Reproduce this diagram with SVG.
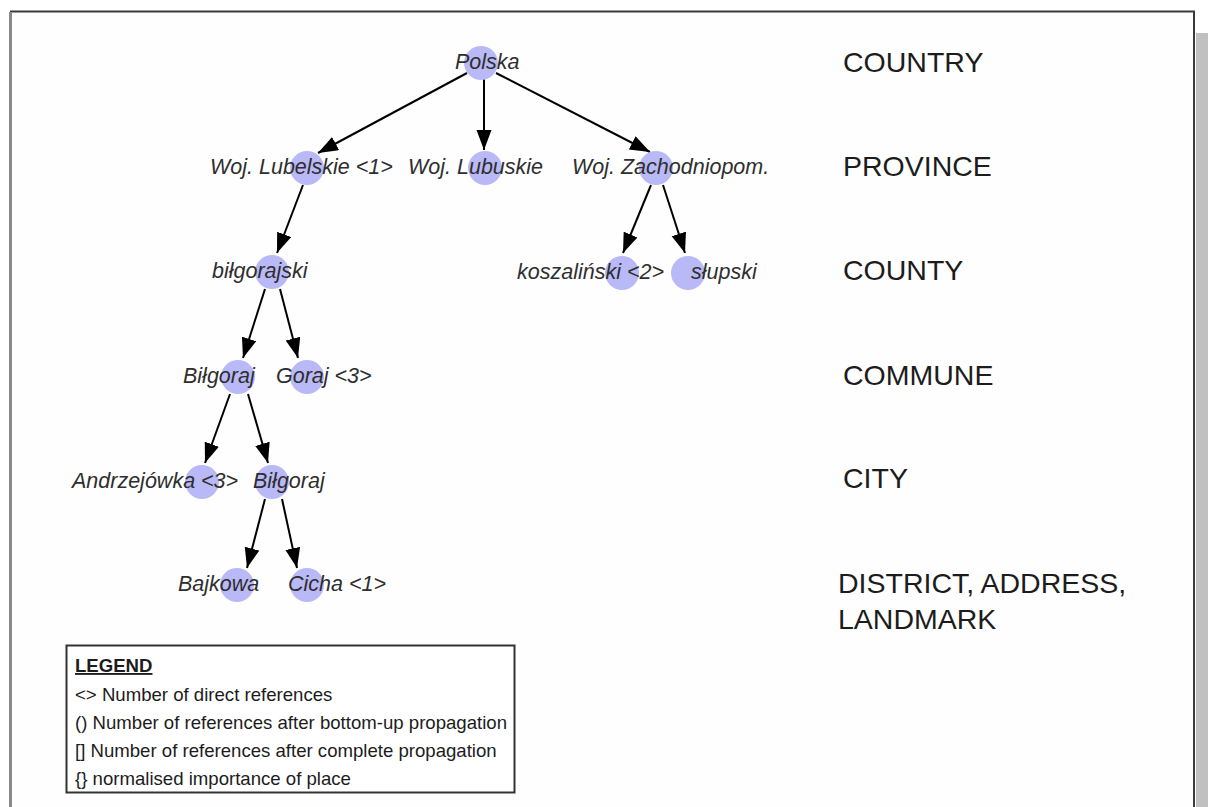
<svg xmlns="http://www.w3.org/2000/svg" width="1208" height="807" viewBox="0 0 1208 807">
  <style>
    .place { fill: #b9b9f7; }
    .label { font-family: "Liberation Sans", Arial, sans-serif; font-style: italic; font-size: 21.5px; fill: #2e2e2e; }
    .level { font-family: "Liberation Sans", Arial, sans-serif; font-size: 28.5px; fill: #1c1c1c; }
    .legend { font-family: "Liberation Sans", Arial, sans-serif; font-size: 18.6px; fill: #1c1c1c; }
    .edge { stroke: #000; stroke-width: 2; fill: none; marker-end: url(#arrow); }
  </style>
  <defs>
    <marker id="arrow" markerUnits="userSpaceOnUse" markerWidth="21" markerHeight="16" refX="20" refY="7.5" orient="auto">
      <path d="M0,0 L20,7.5 L0,15 z" fill="#000"/>
    </marker>
  </defs>

  <!-- page -->
  <rect x="0" y="0" width="1208" height="807" fill="#fff"/>
  <rect x="1196" y="33" width="12" height="780" fill="#c0c0c0"/>
  <rect x="11" y="11.5" width="1183" height="830" fill="#fefefe" stroke="#3a3a3a" stroke-width="2"/>
  <line x1="10.5" y1="12" x2="10.5" y2="807" stroke="#8a8a8a" stroke-width="3"/>

  <!-- connectors -->
  <g id="connectors">
    <line class="edge" x1="467" y1="73" x2="318" y2="153"/>
    <line class="edge" x1="484" y1="79" x2="484" y2="150"/>
    <line class="edge" x1="496" y1="73" x2="650" y2="152"/>
    <line class="edge" x1="303" y1="185" x2="277" y2="253"/>
    <line class="edge" x1="265" y1="289" x2="243" y2="358"/>
    <line class="edge" x1="280" y1="289" x2="298" y2="358"/>
    <line class="edge" x1="651" y1="185" x2="623" y2="253"/>
    <line class="edge" x1="663" y1="185" x2="685" y2="253"/>
    <line class="edge" x1="230" y1="394" x2="205" y2="463"/>
    <line class="edge" x1="248" y1="394" x2="268" y2="463"/>
    <line class="edge" x1="265" y1="499" x2="247" y2="568"/>
    <line class="edge" x1="282" y1="499" x2="297" y2="568"/>
  </g>

  <!-- places -->
  <g id="polska">
    <circle class="place" cx="481" cy="63" r="17"/>
    <text class="label" x="455" y="69">Polska</text>
  </g>
  <g id="woj-lubelskie">
    <circle class="place" cx="307" cy="168" r="17"/>
    <text class="label" x="210" y="174">Woj. Lubelskie &lt;1&gt;</text>
  </g>
  <g id="woj-lubuskie">
    <circle class="place" cx="485" cy="168" r="17"/>
    <text class="label" x="408" y="174">Woj. Lubuskie</text>
  </g>
  <g id="woj-zachodniopom">
    <circle class="place" cx="656" cy="168" r="17"/>
    <text class="label" x="572" y="174">Woj. Zachodniopom.</text>
  </g>
  <g id="bilgorajski">
    <circle class="place" cx="272" cy="272" r="17"/>
    <text class="label" x="212" y="278">biłgorajski</text>
  </g>
  <g id="koszalinski">
    <circle class="place" cx="622" cy="273" r="17"/>
    <text class="label" x="517" y="279">koszaliński &lt;2&gt;</text>
  </g>
  <g id="slupski">
    <circle class="place" cx="688" cy="273" r="17"/>
    <text class="label" x="691" y="279">słupski</text>
  </g>
  <g id="bilgoraj-commune">
    <circle class="place" cx="238" cy="377" r="17"/>
    <text class="label" x="183" y="383">Biłgoraj</text>
  </g>
  <g id="goraj">
    <circle class="place" cx="307" cy="377" r="17"/>
    <text class="label" x="276" y="383">Goraj &lt;3&gt;</text>
  </g>
  <g id="andrzejowka">
    <circle class="place" cx="202" cy="482" r="17"/>
    <text class="label" x="72" y="488">Andrzejówka &lt;3&gt;</text>
  </g>
  <g id="bilgoraj-city">
    <circle class="place" cx="272" cy="482" r="17"/>
    <text class="label" x="253" y="488">Biłgoraj</text>
  </g>
  <g id="bajkowa">
    <circle class="place" cx="237" cy="585" r="17"/>
    <text class="label" x="178" y="591">Bajkowa</text>
  </g>
  <g id="cicha">
    <circle class="place" cx="307" cy="585" r="17"/>
    <text class="label" x="288" y="591">Cicha &lt;1&gt;</text>
  </g>

  <!-- hierarchy levels -->
  <g id="levels">
    <text class="level" x="843" y="72">COUNTRY</text>
    <text class="level" x="843" y="176">PROVINCE</text>
    <text class="level" x="843" y="280">COUNTY</text>
    <text class="level" x="843" y="385">COMMUNE</text>
    <text class="level" x="843" y="488">CITY</text>
    <text class="level" x="838" y="593">DISTRICT, ADDRESS,</text>
    <text class="level" x="838" y="629">LANDMARK</text>
  </g>

  <!-- legend -->
  <g id="legend">
    <rect x="66.5" y="645.5" width="448" height="147" fill="#fff" stroke="#333" stroke-width="2"/>
    <text class="legend" x="75" y="672" font-weight="bold" text-decoration="underline">LEGEND</text>
    <text class="legend" x="75" y="701">&lt;&gt; Number of direct references</text>
    <text class="legend" x="75" y="729">() Number of references after bottom-up propagation</text>
    <text class="legend" x="75" y="757">[] Number of references after complete propagation</text>
    <text class="legend" x="75" y="785">{} normalised importance of place</text>
  </g>
</svg>
